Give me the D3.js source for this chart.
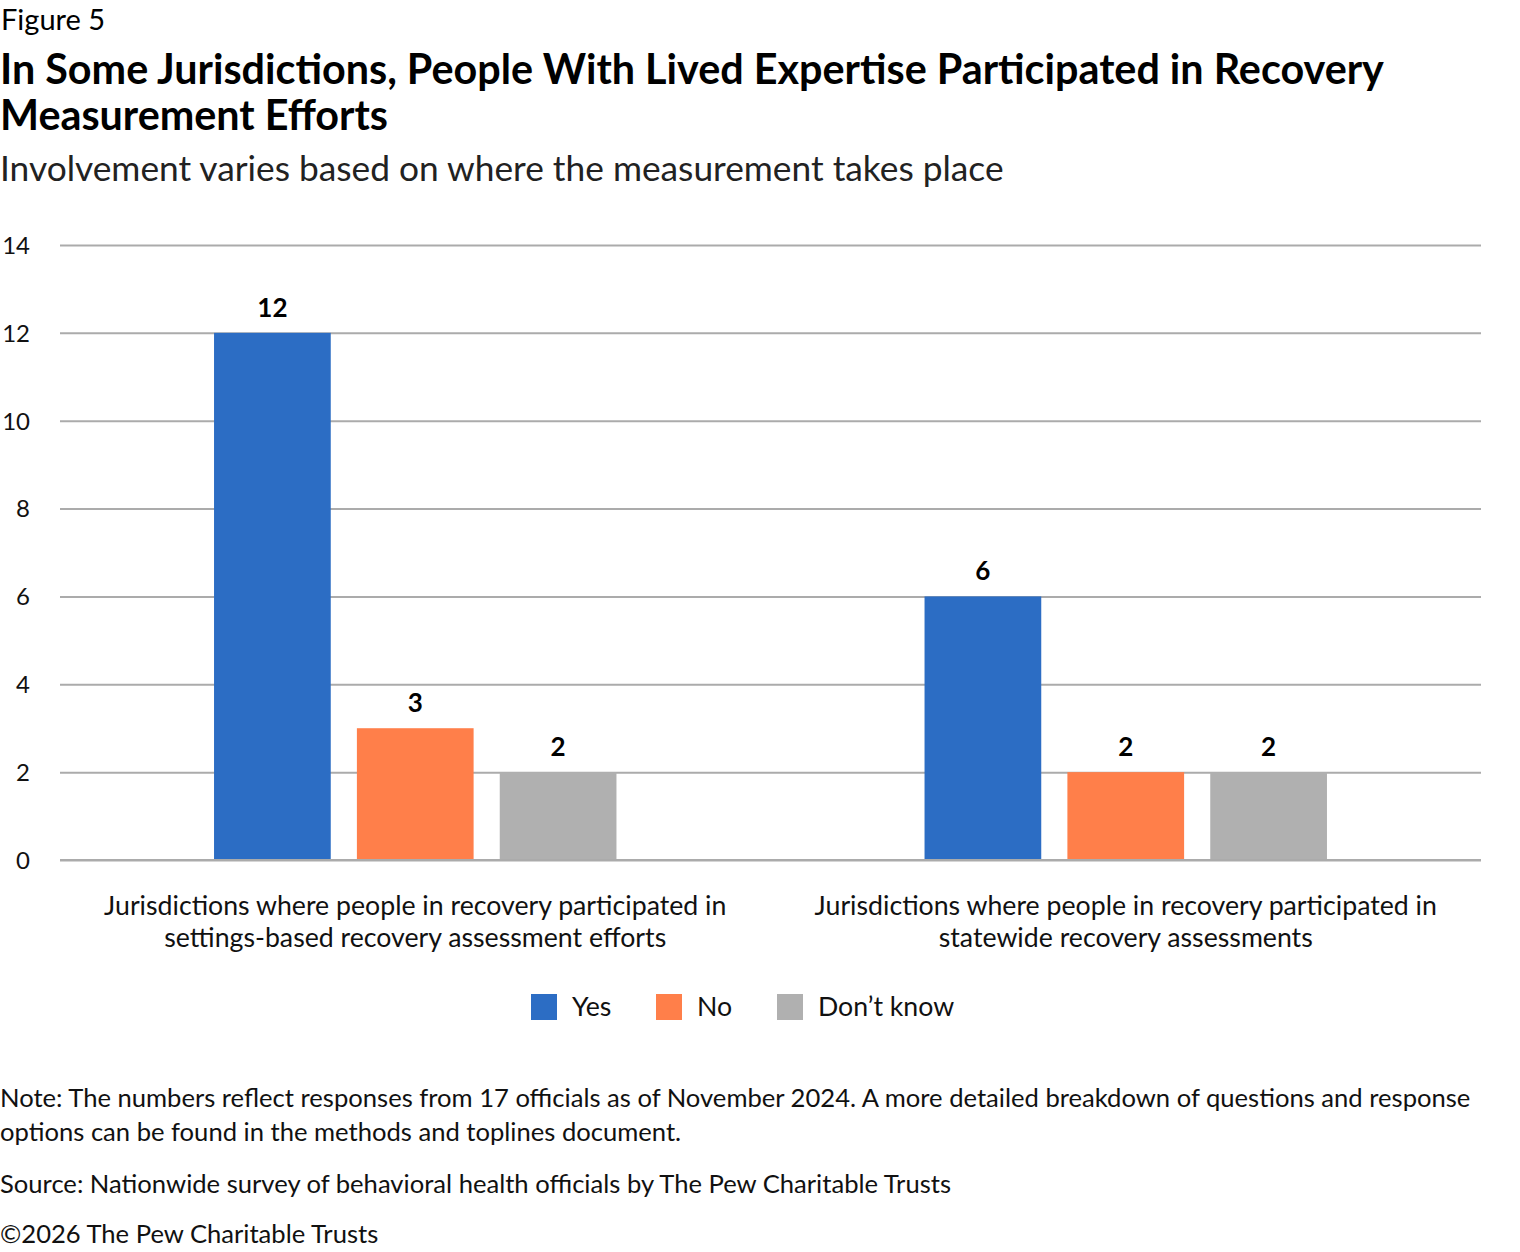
<!DOCTYPE html>
<html>
<head>
<meta charset="utf-8">
<script src="https://cdn.jsdelivr.net/npm/d3@7"></script>
<style>
  html, body { margin: 0; padding: 0; background: #fff; }
  svg { display: block; font-family: Lato, "Noto Sans", sans-serif; }
</style>
</head>
<body>
<svg id="chart" width="1520" height="1252"></svg>
<script>
// ---- Data ----
const categories = [
  ["Jurisdictions where people in recovery participated in", "settings-based recovery assessment efforts"],
  ["Jurisdictions where people in recovery participated in", "statewide recovery assessments"]
];
const seriesNames = ["Yes", "No", "Don\u2019t know"];
const yesValues = [12, 6];
const noValues = [3, 2];
const dontKnowValues = [2, 2];
const yTicks = [0, 2, 4, 6, 8, 10, 12, 14];
const colors = ["#2c6dc4", "#ff7f4a", "#b0b0b0"];

const seriesValues = [yesValues, noValues, dontKnowValues];
const table = categories.map((c, i) => ({
  key: i,
  label: c,
  values: seriesNames.map((s, j) => ({ series: s, value: seriesValues[j][i], color: colors[j] }))
}));

// ---- Layout ----
const svg = d3.select("#chart");
const plot = { left: 60, right: 1481, top: 245, bottom: 860 };

const x0 = d3.scaleBand().domain(table.map(d => d.key)).range([plot.left, plot.right]).padding(0);
const groupInset = x0.bandwidth() * 0.2168;
const x1 = d3.scaleBand().domain(seriesNames)
  .range([groupInset, x0.bandwidth() - groupInset])
  .paddingInner(0.183).paddingOuter(0);
const y = d3.scaleLinear().domain([0, 14]).range([plot.bottom, plot.top]);

// Titles
svg.append("text").attr("x", 1).attr("y", 30).attr("font-size", 29).attr("fill", "#000").text("Figure 5");
svg.append("text").attr("x", 0).attr("y", 84).attr("font-size", 41.3).attr("font-weight", 700).attr("fill", "#000")
  .text("In Some Jurisdictions, People With Lived Expertise Participated in Recovery");
svg.append("text").attr("x", 0).attr("y", 130).attr("font-size", 41.3).attr("font-weight", 700).attr("fill", "#000")
  .text("Measurement Efforts");
svg.append("text").attr("x", 0).attr("y", 181).attr("font-size", 35.3).attr("fill", "#222")
  .text("Involvement varies based on where the measurement takes place");

// Gridlines + y axis
const yAxis = d3.axisLeft(y).tickValues(yTicks).tickSize(-(plot.right - plot.left)).tickPadding(30);
const gy = svg.append("g").attr("transform", `translate(${plot.left},0)`).call(yAxis);
gy.select(".domain").remove();
gy.selectAll(".tick line").attr("stroke", "#ababab").attr("stroke-width", 2);
gy.selectAll(".tick text").attr("font-size", 24).attr("fill", "#111")
  .attr("font-family", "Lato, sans-serif").attr("dy", "0.35em");

// Bars
const groups = svg.append("g").selectAll("g").data(table).join("g")
  .attr("transform", d => `translate(${x0(d.key)},0)`);
groups.selectAll("rect").data(d => d.values).join("rect")
  .attr("x", d => x1(d.series))
  .attr("width", x1.bandwidth())
  .attr("y", d => y(d.value))
  .attr("height", d => y(0) - y(d.value))
  .attr("fill", d => d.color);
groups.selectAll("text.val").data(d => d.values).join("text")
  .attr("class", "val")
  .attr("x", d => x1(d.series) + x1.bandwidth() / 2)
  .attr("y", d => y(d.value) - 16)
  .attr("text-anchor", "middle")
  .attr("font-size", 26).attr("font-weight", 700).attr("fill", "#000")
  .text(d => d.value);

// Baseline redraw
svg.append("line").attr("x1", plot.left).attr("x2", plot.right)
  .attr("y1", y(0)).attr("y2", y(0)).attr("stroke", "#ababab").attr("stroke-width", 2);

// Category labels
const cat = svg.append("g").selectAll("text").data(table).join("text")
  .attr("x", d => x0(d.key) + x0.bandwidth() / 2)
  .attr("text-anchor", "middle")
  .attr("font-size", 26.7).attr("fill", "#111");
cat.selectAll("tspan").data(d => d.label).join("tspan")
  .attr("x", function() { return d3.select(this.parentNode).attr("x"); })
  .attr("y", (d, i) => 915 + i * 32)
  .text(d => d);

// Legend
const legendX = [531, 656, 777];
const leg = svg.append("g").selectAll("g").data(seriesNames).join("g")
  .attr("transform", (d, i) => `translate(${legendX[i]},994)`);
leg.append("rect").attr("width", 26).attr("height", 26).attr("fill", (d, i) => colors[i]);
leg.append("text").attr("x", 41).attr("y", 22).attr("font-size", 26.7).attr("fill", "#111").text(d => d);

// Notes
const notes = [
  ["Note: The numbers reflect responses from 17 officials as of November 2024. A more detailed breakdown of questions and response", 1107],
  ["options can be found in the methods and toplines document.", 1141],
  ["Source: Nationwide survey of behavioral health officials by The Pew Charitable Trusts", 1193],
  ["\u00a92026 The Pew Charitable Trusts", 1243]
];
svg.append("g").selectAll("text").data(notes).join("text")
  .attr("x", 0).attr("y", d => d[1]).attr("font-size", 25.6).attr("fill", "#111").text(d => d[0]);
</script>
</body>
</html>
